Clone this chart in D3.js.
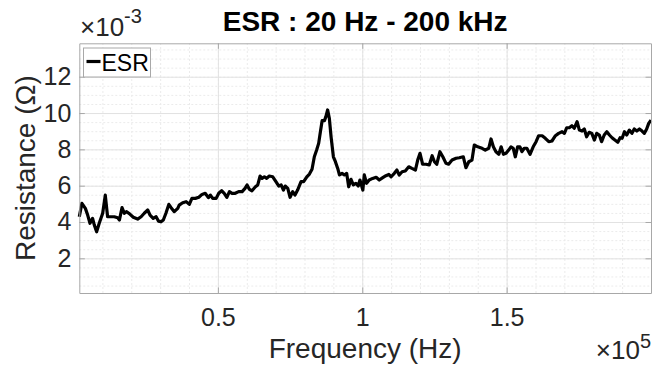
<!DOCTYPE html>
<html>
<head>
<meta charset="utf-8">
<script src="https://cdn.jsdelivr.net/npm/d3@7"></script>
<style>
  html, body { margin: 0; padding: 0; background: #fff; }
  svg { display: block; font-family: "Liberation Sans", Arial, sans-serif; }
</style>
</head>
<body>
<div id="chart"></div>
<script>
// frequency in kHz, ESR in milli-ohm
const freqKHz = [
  2.0, 2.9, 4.1, 4.9, 5.7, 6.6, 7.2, 8.0, 8.9, 10.1, 11.0, 11.8, 13.0, 14.1, 15.3, 15.9,
  16.8, 17.6, 18.4, 19.6, 20.7, 22.2, 23.4, 24.5, 25.7, 26.5, 27.6, 28.6, 29.4, 30.3,
  31.1, 32.0, 33.0, 33.8, 34.9, 36.1, 36.6, 37.8, 39.0, 40.1, 41.0, 42.2, 43.4, 44.5,
  45.6, 46.7, 47.4, 48.2, 49.4, 50.3, 51.3, 52.2, 53.1, 54.0, 54.9, 56.0, 57.2, 58.4,
  59.4, 60.1, 60.9, 61.8, 63.0, 63.8, 64.6, 65.3, 66.1, 66.9, 67.8, 69.0, 70.1, 71.1,
  71.9, 72.7, 73.3, 74.2, 75.0, 75.9, 76.7, 77.6, 78.8, 79.7, 80.8, 81.7, 82.6, 83.4,
  84.2, 84.9, 85.5, 86.1, 86.9, 87.4, 88.0, 88.6, 89.2, 90.0, 90.7, 91.5, 92.1, 93.0,
  93.8, 94.6, 95.3, 96.1, 96.9, 97.8, 98.6, 99.2, 100.2, 100.7, 101.5, 102.4, 103.6,
  104.8, 105.9, 107.1, 108.2, 109.2, 110.0, 111.1, 112.0, 112.8, 113.8, 114.9, 116.1,
  117.2, 118.4, 119.2, 120.0, 120.9, 122.1, 123.2, 124.2, 125.0, 125.8, 126.9, 127.9,
  129.0, 129.9, 131.1, 132.5, 133.6, 135.0, 135.9, 136.9, 138.0, 138.8, 140.0, 141.5,
  142.6, 143.8, 144.6, 145.4, 146.3, 147.3, 148.1, 148.9, 149.8, 150.7, 151.5, 152.3,
  153.0, 153.8, 154.6, 155.3, 156.1, 157.0, 158.1, 159.2, 160.2, 161.1, 162.3, 163.4,
  164.6, 165.7, 166.9, 168.0, 169.2, 170.0, 170.8, 171.7, 172.6, 173.4, 174.4, 175.2,
  176.1, 176.9, 177.7, 178.6, 179.5, 180.4, 181.2, 182.1, 182.9, 183.8, 184.7, 185.6,
  186.5, 187.5, 188.5, 189.3, 190.0, 190.8, 191.6, 192.5, 193.4, 194.2, 195.1, 196.0,
  196.9, 197.7, 198.5, 199.2, 200.0
];
const esrMilliOhm = [
  4.29, 5.03, 4.75, 4.38, 3.93, 4.20, 3.83, 3.46, 3.93, 4.48, 5.48, 4.29, 4.29, 4.29, 4.23, 4.11,
  4.79, 4.48, 4.57, 4.42, 4.26, 4.16, 4.29, 4.48, 4.66, 4.38, 4.20, 4.29, 4.05, 4.01,
  4.11, 4.48, 4.97, 4.79, 4.57, 4.75, 4.93, 5.06, 5.12, 4.97, 5.30, 5.30, 5.36, 5.52,
  5.58, 5.34, 5.48, 5.30, 5.30, 5.58, 5.72, 5.58, 5.36, 5.67, 5.58, 5.58, 5.67, 5.67,
  5.85, 6.04, 5.80, 5.72, 5.94, 6.04, 6.53, 6.40, 6.49, 6.40, 6.53, 6.49, 6.22, 5.98,
  6.04, 5.76, 5.98, 5.85, 5.36, 5.67, 5.48, 5.76, 6.22, 6.22, 6.49, 6.64, 6.90, 7.59,
  7.96, 8.33, 8.97, 9.58, 9.58, 9.80, 10.17, 9.71, 8.69, 7.59, 7.32, 6.95, 6.59, 6.68,
  6.59, 6.68, 5.94, 6.35, 6.04, 6.13, 5.98, 6.31, 5.76, 6.59, 6.13, 6.31, 6.40,
  6.46, 6.31, 6.44, 6.55, 6.62, 6.49, 6.68, 6.86, 6.59, 6.77, 6.81, 7.04,
  6.95, 6.86, 7.41, 7.78, 7.18, 7.18, 7.14, 7.65, 7.32, 7.18, 7.87, 7.59,
  7.23, 7.18, 7.41, 7.51, 7.54, 7.59, 6.99, 7.32, 7.41, 8.24, 8.14, 8.06,
  7.96, 8.06, 8.57, 8.14, 7.87, 7.73, 8.14, 7.73, 7.78, 7.96, 8.14, 8.06,
  7.59, 8.14, 8.14, 7.87, 8.06, 8.06, 7.73, 8.14, 8.42, 8.75, 8.75, 8.61,
  8.42, 8.46, 8.75, 8.88, 8.97, 8.88, 9.19, 9.19, 9.30, 9.16, 9.52, 9.06,
  9.01, 9.12, 8.69, 8.94, 8.88, 8.51, 8.88, 8.79, 8.42, 8.79, 8.97, 8.79,
  8.64, 8.51, 8.39, 8.64, 8.61, 8.97, 8.79, 9.06, 8.88, 9.12, 9.01, 9.12,
  9.01, 8.88, 9.12, 9.43, 9.61
];
const xTicks = [0.5e5, 1e5, 1.5e5];
const xTickLabels = ['0.5', '1', '1.5'];
const yTicks = [2e-3, 4e-3, 6e-3, 8e-3, 10e-3, 12e-3];
const yTickLabels = ['2', '4', '6', '8', '10', '12'];
const titleText = 'ESR : 20 Hz - 200 kHz';
const xLabel = 'Frequency (Hz)';
const yLabel = 'Resistance (\u03A9)';
const seriesName = 'ESR';

const width = 666;
const height = 366;
const plot = { left: 79.3, right: 651, top: 43.3, bottom: 293 };

const data = freqKHz.map((f, i) => ({ f: f * 1000, r: esrMilliOhm[i] / 1000 }));

const svg = d3.select('#chart').append('svg')
    .attr('width', width)
    .attr('height', height);

const x = d3.scaleLinear()
    .domain(d3.extent(data, d => d.f))
    .range([plot.left, plot.right]);

const y = d3.scaleLinear()
    .domain([0.09e-3, 13.84e-3])
    .range([plot.bottom, plot.top]);

const plotW = plot.right - plot.left;
const plotH = plot.bottom - plot.top;

// minor grid
const xMinor = d3.range(10000, 200001, 10000).filter(v => v > x.domain()[0] && v < x.domain()[1]);
const yMinor = d3.range(0.5e-3, 13.8e-3, 0.5e-3);

svg.append('g')
    .attr('transform', `translate(0,${plot.bottom})`)
    .call(d3.axisBottom(x).tickValues(xMinor).tickSize(-plotH).tickFormat(''))
    .call(g => g.select('.domain').remove())
    .selectAll('line')
    .attr('stroke', '#ebebeb')
    .attr('stroke-dasharray', '2,2');

svg.append('g')
    .attr('transform', `translate(${plot.left},0)`)
    .call(d3.axisLeft(y).tickValues(yMinor).tickSize(-plotW).tickFormat(''))
    .call(g => g.select('.domain').remove())
    .selectAll('line')
    .attr('stroke', '#ebebeb')
    .attr('stroke-dasharray', '2,2');

// major grid
svg.append('g')
    .attr('transform', `translate(0,${plot.bottom})`)
    .call(d3.axisBottom(x).tickValues(xTicks).tickSize(-plotH).tickFormat(''))
    .call(g => g.select('.domain').remove())
    .selectAll('line')
    .attr('stroke', '#e2e2e2');

svg.append('g')
    .attr('transform', `translate(${plot.left},0)`)
    .call(d3.axisLeft(y).tickValues(yTicks).tickSize(-plotW).tickFormat(''))
    .call(g => g.select('.domain').remove())
    .selectAll('line')
    .attr('stroke', '#e2e2e2');

// the ESR curve
const line = d3.line()
    .x(d => x(d.f))
    .y(d => y(d.r));

svg.append('path')
    .datum(data)
    .attr('fill', 'none')
    .attr('stroke', '#000')
    .attr('stroke-width', 3.2)
    .attr('stroke-linejoin', 'round')
    .attr('d', line);

// axes box with inward ticks on every side
const axisColor = '#a8a8a8';
const tickLen = 5.5;

function styleAxis(g) {
    g.attr('font-family', null).attr('font-size', null);
    g.select('.domain').attr('stroke', axisColor);
    g.selectAll('.tick line').attr('stroke', axisColor);
    g.selectAll('.tick text')
        .attr('fill', '#262626')
        .style('font-size', '25px');
}

svg.append('g')
    .attr('transform', `translate(0,${plot.bottom})`)
    .call(d3.axisBottom(x).tickValues(xTicks).tickSizeInner(-tickLen).tickSizeOuter(0)
        .tickPadding(15).tickFormat((d, i) => xTickLabels[i]))
    .call(styleAxis);

svg.append('g')
    .attr('transform', `translate(0,${plot.top})`)
    .call(d3.axisTop(x).tickValues(xTicks).tickSizeInner(-tickLen).tickSizeOuter(0).tickFormat(''))
    .call(styleAxis);

svg.append('g')
    .attr('transform', `translate(${plot.left},0)`)
    .call(d3.axisLeft(y).tickValues(yTicks).tickSizeInner(-tickLen).tickSizeOuter(0)
        .tickPadding(8).tickFormat((d, i) => yTickLabels[i]))
    .call(styleAxis);

svg.append('g')
    .attr('transform', `translate(${plot.right},0)`)
    .call(d3.axisRight(y).tickValues(yTicks).tickSizeInner(-tickLen).tickSizeOuter(0).tickFormat(''))
    .call(styleAxis);

// exponent labels
const expo = svg.append('text')
    .attr('x', 80)
    .attr('y', 36)
    .attr('fill', '#262626')
    .style('font-size', '26px');
expo.append('tspan').text('\u00D710');
expo.append('tspan').attr('dy', -13).style('font-size', '20px').text('-3');

const expo2 = svg.append('text')
    .attr('x', 651)
    .attr('y', 359)
    .attr('text-anchor', 'end')
    .attr('fill', '#262626')
    .style('font-size', '26px');
expo2.append('tspan').text('\u00D710');
expo2.append('tspan').attr('dy', -11).style('font-size', '20px').text('5');

// title and axis labels
svg.append('text')
    .attr('x', (plot.left + plot.right) / 2)
    .attr('y', 31)
    .attr('text-anchor', 'middle')
    .attr('font-weight', 'bold')
    .style('font-size', '28px')
    .text(titleText);

svg.append('text')
    .attr('x', (plot.left + plot.right) / 2)
    .attr('y', 358)
    .attr('text-anchor', 'middle')
    .attr('fill', '#262626')
    .style('font-size', '28px')
    .text(xLabel);

svg.append('text')
    .attr('transform', `translate(35,${(plot.top + plot.bottom) / 2}) rotate(-90)`)
    .attr('text-anchor', 'middle')
    .attr('fill', '#262626')
    .style('font-size', '28px')
    .text(yLabel);

// legend
const legend = svg.append('g').attr('transform', 'translate(83.5,48)');
legend.append('rect')
    .attr('width', 67)
    .attr('height', 29)
    .attr('fill', '#fff')
    .attr('stroke', '#a8a8a8');
legend.append('line')
    .attr('x1', 3).attr('x2', 17)
    .attr('y1', 13.5).attr('y2', 13.5)
    .attr('stroke', '#000')
    .attr('stroke-width', 3.2);
legend.append('text')
    .attr('x', 18)
    .attr('y', 23)
    .style('font-size', '23px')
    .text(seriesName);
</script>
</body>
</html>
